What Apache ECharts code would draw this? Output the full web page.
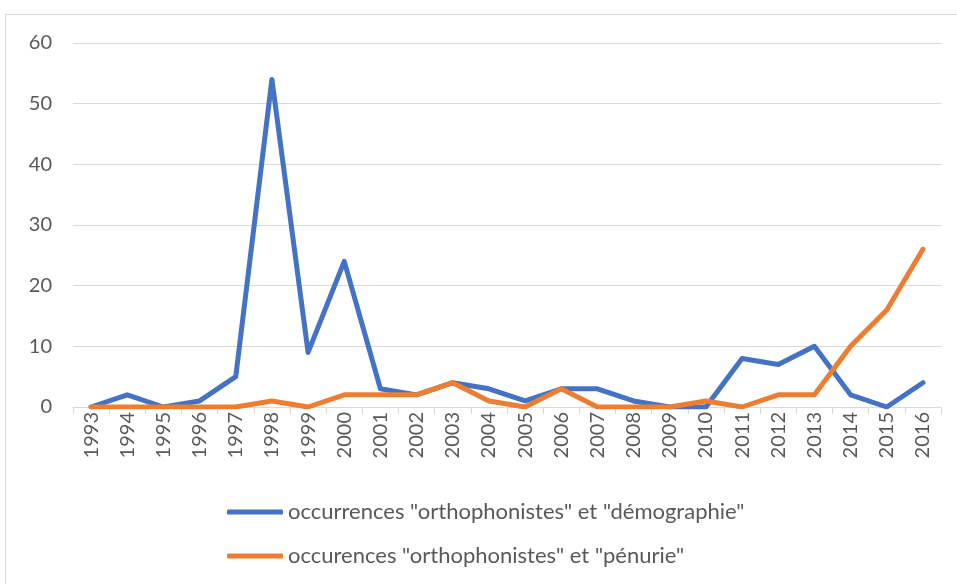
<!DOCTYPE html>
<html>
<head>
<meta charset="utf-8">
<script src="https://cdn.jsdelivr.net/npm/echarts@6/dist/echarts.min.js"></script>
<style>
  html, body { margin: 0; padding: 0; background: #fff; }
  #frame { position: absolute; left: 5px; top: 14px; width: 960px; height: 580px; border: 1px solid #d9d9d9; box-sizing: border-box; }
  #chart { position: absolute; left: 0; top: 0; width: 957px; height: 584px; }
</style>
</head>
<body>
<div id="frame"></div>
<div id="chart"></div>
<script>
const years = ['1993', '1994', '1995', '1996', '1997', '1998', '1999', '2000', '2001', '2002', '2003', '2004',
  '2005', '2006', '2007', '2008', '2009', '2010', '2011', '2012', '2013', '2014', '2015', '2016'];
const demographie = [0, 2, 0, 1, 5, 54, 9, 24, 3, 2, 4, 3, 1, 3, 3, 1, 0, 0, 8, 7, 10, 2, 0, 4];
const penurie = [0, 0, 0, 0, 0, 1, 0, 2, 2, 2, 4, 1, 0, 3, 0, 0, 0, 1, 0, 2, 2, 10, 16, 26];

const FONT = 'Lato, "Open Sans", sans-serif';
const TEXT = '#595959';
const NAME_DEMO = 'occurrences "orthophonistes" et "démographie"';
const NAME_PEN = 'occurences "orthophonistes" et "pénurie"';

const chart = echarts.init(document.getElementById('chart'));
chart.setOption({
  animation: false,
  backgroundColor: 'transparent',
  grid: { left: 73, right: 16, top: 43, bottom: 177 },
  xAxis: {
    type: 'category',
    data: years,
    boundaryGap: true,
    axisLine: { lineStyle: { color: '#d9d9d9', width: 1 } },
    axisTick: { show: true, length: 7, lineStyle: { color: '#d9d9d9' } },
    axisLabel: { rotate: 90, interval: 0, margin: 5, color: TEXT, fontSize: 20, fontFamily: FONT }
  },
  yAxis: {
    type: 'value',
    min: 0,
    max: 60,
    interval: 10,
    axisLine: { show: false },
    axisTick: { show: false },
    splitLine: { lineStyle: { color: '#d9d9d9', width: 1 } },
    axisLabel: { margin: 21, color: TEXT, fontSize: 20, fontFamily: FONT }
  },
  legend: {
    orient: 'vertical',
    left: 222,
    top: 496,
    itemGap: 22,
    itemWidth: 56,
    itemHeight: 5,
    icon: 'roundRect',
    textStyle: { color: TEXT, fontSize: 22, fontFamily: FONT },
    data: [NAME_DEMO, NAME_PEN]
  },
  series: [
    {
      name: NAME_DEMO,
      type: 'line',
      data: demographie,
      symbol: 'none',
      color: '#4472c4',
      lineStyle: { width: 5, color: '#4472c4', cap: 'round', join: 'round' }
    },
    {
      name: NAME_PEN,
      type: 'line',
      data: penurie,
      symbol: 'none',
      color: '#ed7d31',
      lineStyle: { width: 5, color: '#ed7d31', cap: 'round', join: 'round' }
    }
  ]
});
</script>
</body>
</html>
